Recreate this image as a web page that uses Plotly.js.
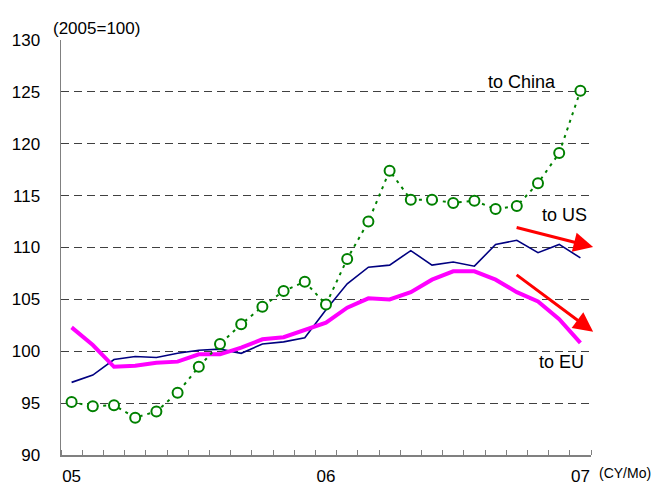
<!DOCTYPE html>
<html>
<head>
<meta charset="utf-8">
<script src="https://cdn.plot.ly/plotly-3.0.1.min.js"></script>
<style>
html,body{margin:0;padding:0;background:#fff;}
#chart{width:654px;height:486px;}
</style>
</head>
<body>
<div id="chart"></div>
<script>
// Months Jan 2005 .. Jan 2007 (index 0..24)
var months = ['2005/01','2005/02','2005/03','2005/04','2005/05','2005/06','2005/07','2005/08','2005/09','2005/10','2005/11','2005/12',
              '2006/01','2006/02','2006/03','2006/04','2006/05','2006/06','2006/07','2006/08','2006/09','2006/10','2006/11','2006/12','2007/01'];
var tickLabels = ['05','06','07'];
var tickIdx = [0, 12, 24];

var toChina = [95.1, 94.7, 94.8, 93.6, 94.2, 96.0, 98.5, 100.7, 102.6, 104.3, 105.8, 106.7,
               104.5, 108.9, 112.5, 117.4, 114.6, 114.6, 114.3, 114.5, 113.7, 114.0, 116.2, 119.1, 125.1];
var toUS    = [97.0, 97.7, 99.2, 99.5, 99.4, 99.8, 100.1, 100.2, 99.8, 100.7, 100.9, 101.3,
               104.0, 106.5, 108.1, 108.3, 109.7, 108.3, 108.6, 108.2, 110.3, 110.7, 109.5, 110.3, 109.0];
var toEU    = [102.3, 100.6, 98.5, 98.6, 98.9, 99.0, 99.7, 99.7, 100.35, 101.15, 101.35, 102.1,
               102.75, 104.2, 105.1, 105.0, 105.7, 106.9, 107.7, 107.7, 106.9, 105.7, 104.8, 103.1, 100.8];

var xIdx = months.map(function(m, i){ return i; });

var FONT = '"Liberation Sans", Arial, Helvetica, sans-serif';

var traces = [
  {x: xIdx, y: toUS, type: 'scatter', mode: 'lines', name: 'to US',
   line: {color: '#000080', width: 1.6}, hoverinfo: 'skip'},
  {x: xIdx, y: toEU, type: 'scatter', mode: 'lines', name: 'to EU',
   line: {color: '#FF00FF', width: 4}, hoverinfo: 'skip'},
  {x: xIdx, y: toChina, type: 'scatter', mode: 'lines+markers', name: 'to China',
   line: {color: '#008000', width: 2, dash: '3px,5px'},
   marker: {symbol: 'circle', size: 10, color: '#ffffff', line: {color: '#008000', width: 2}},
   hoverinfo: 'skip'}
];

var layout = {
  width: 654, height: 486,
  margin: {l: 61, r: 63, t: 40, b: 31, pad: 0},
  paper_bgcolor: '#ffffff', plot_bgcolor: '#ffffff',
  showlegend: false,
  font: {family: FONT, size: 17, color: '#000'},
  xaxis: {
    range: [-0.5, 24.5], fixedrange: true,
    tickmode: 'array', tickvals: tickIdx, ticktext: tickLabels,
    ticks: '', ticklabelstandoff: 5,
    showgrid: false, zeroline: false,
    showline: true, linecolor: '#808080', linewidth: 1.5,
    tickfont: {family: FONT, size: 17, color: '#000'},
    minor: {tickmode: 'linear', tick0: -0.5, dtick: 1, ticks: 'inside', ticklen: 5,
            tickcolor: '#808080', tickwidth: 1, showgrid: false}
  },
  yaxis: {
    range: [90, 130], fixedrange: true,
    tickmode: 'linear', tick0: 90, dtick: 5,
    ticks: '', ticklabelstandoff: 16,
    showgrid: true, gridcolor: '#404040', gridwidth: 1, griddash: '8px,5px',
    zeroline: false,
    showline: true, linecolor: '#808080', linewidth: 1.5,
    tickfont: {family: FONT, size: 17, color: '#000'}
  },
  annotations: [
    {text: '(2005=100)', xref: 'paper', yref: 'paper', x: -0.019, y: 1.027,
     xanchor: 'left', yanchor: 'middle', showarrow: false, font: {family: FONT, size: 17, color: '#000'}},
    {text: '(CY/Mo)', xref: 'paper', yref: 'paper', x: 1.012, y: -0.043,
     xanchor: 'left', yanchor: 'middle', showarrow: false, font: {family: FONT, size: 14, color: '#000'}},
    {text: 'to China', xref: 'x', yref: 'y', x: 22.95, y: 125.95,
     xanchor: 'right', yanchor: 'middle', showarrow: false, font: {family: FONT, size: 18, color: '#000'}},
    {text: 'to US', xref: 'x', yref: 'y', x: 24.4, y: 113.1,
     xanchor: 'right', yanchor: 'middle', showarrow: false, font: {family: FONT, size: 18, color: '#000'}},
    {text: 'to EU', xref: 'x', yref: 'y', x: 24.26, y: 99.0,
     xanchor: 'right', yanchor: 'middle', showarrow: false, font: {family: FONT, size: 18, color: '#000'}},
    {text: '', xref: 'paper', yref: 'paper', x: 1.004, y: 0.501, axref: 'pixel', ayref: 'pixel',
     ax: -78, ay: -20, showarrow: true, arrowhead: 2, arrowsize: 1.3, arrowwidth: 3, arrowcolor: '#FF0000', standoff: 0},
    {text: '', xref: 'paper', yref: 'paper', x: 1.004, y: 0.297, axref: 'pixel', ayref: 'pixel',
     ax: -78, ay: -58, showarrow: true, arrowhead: 2, arrowsize: 1.3, arrowwidth: 3, arrowcolor: '#FF0000', standoff: 0}
  ]
};

Plotly.newPlot('chart', traces, layout, {staticPlot: true, displayModeBar: false});
</script>
</body>
</html>
